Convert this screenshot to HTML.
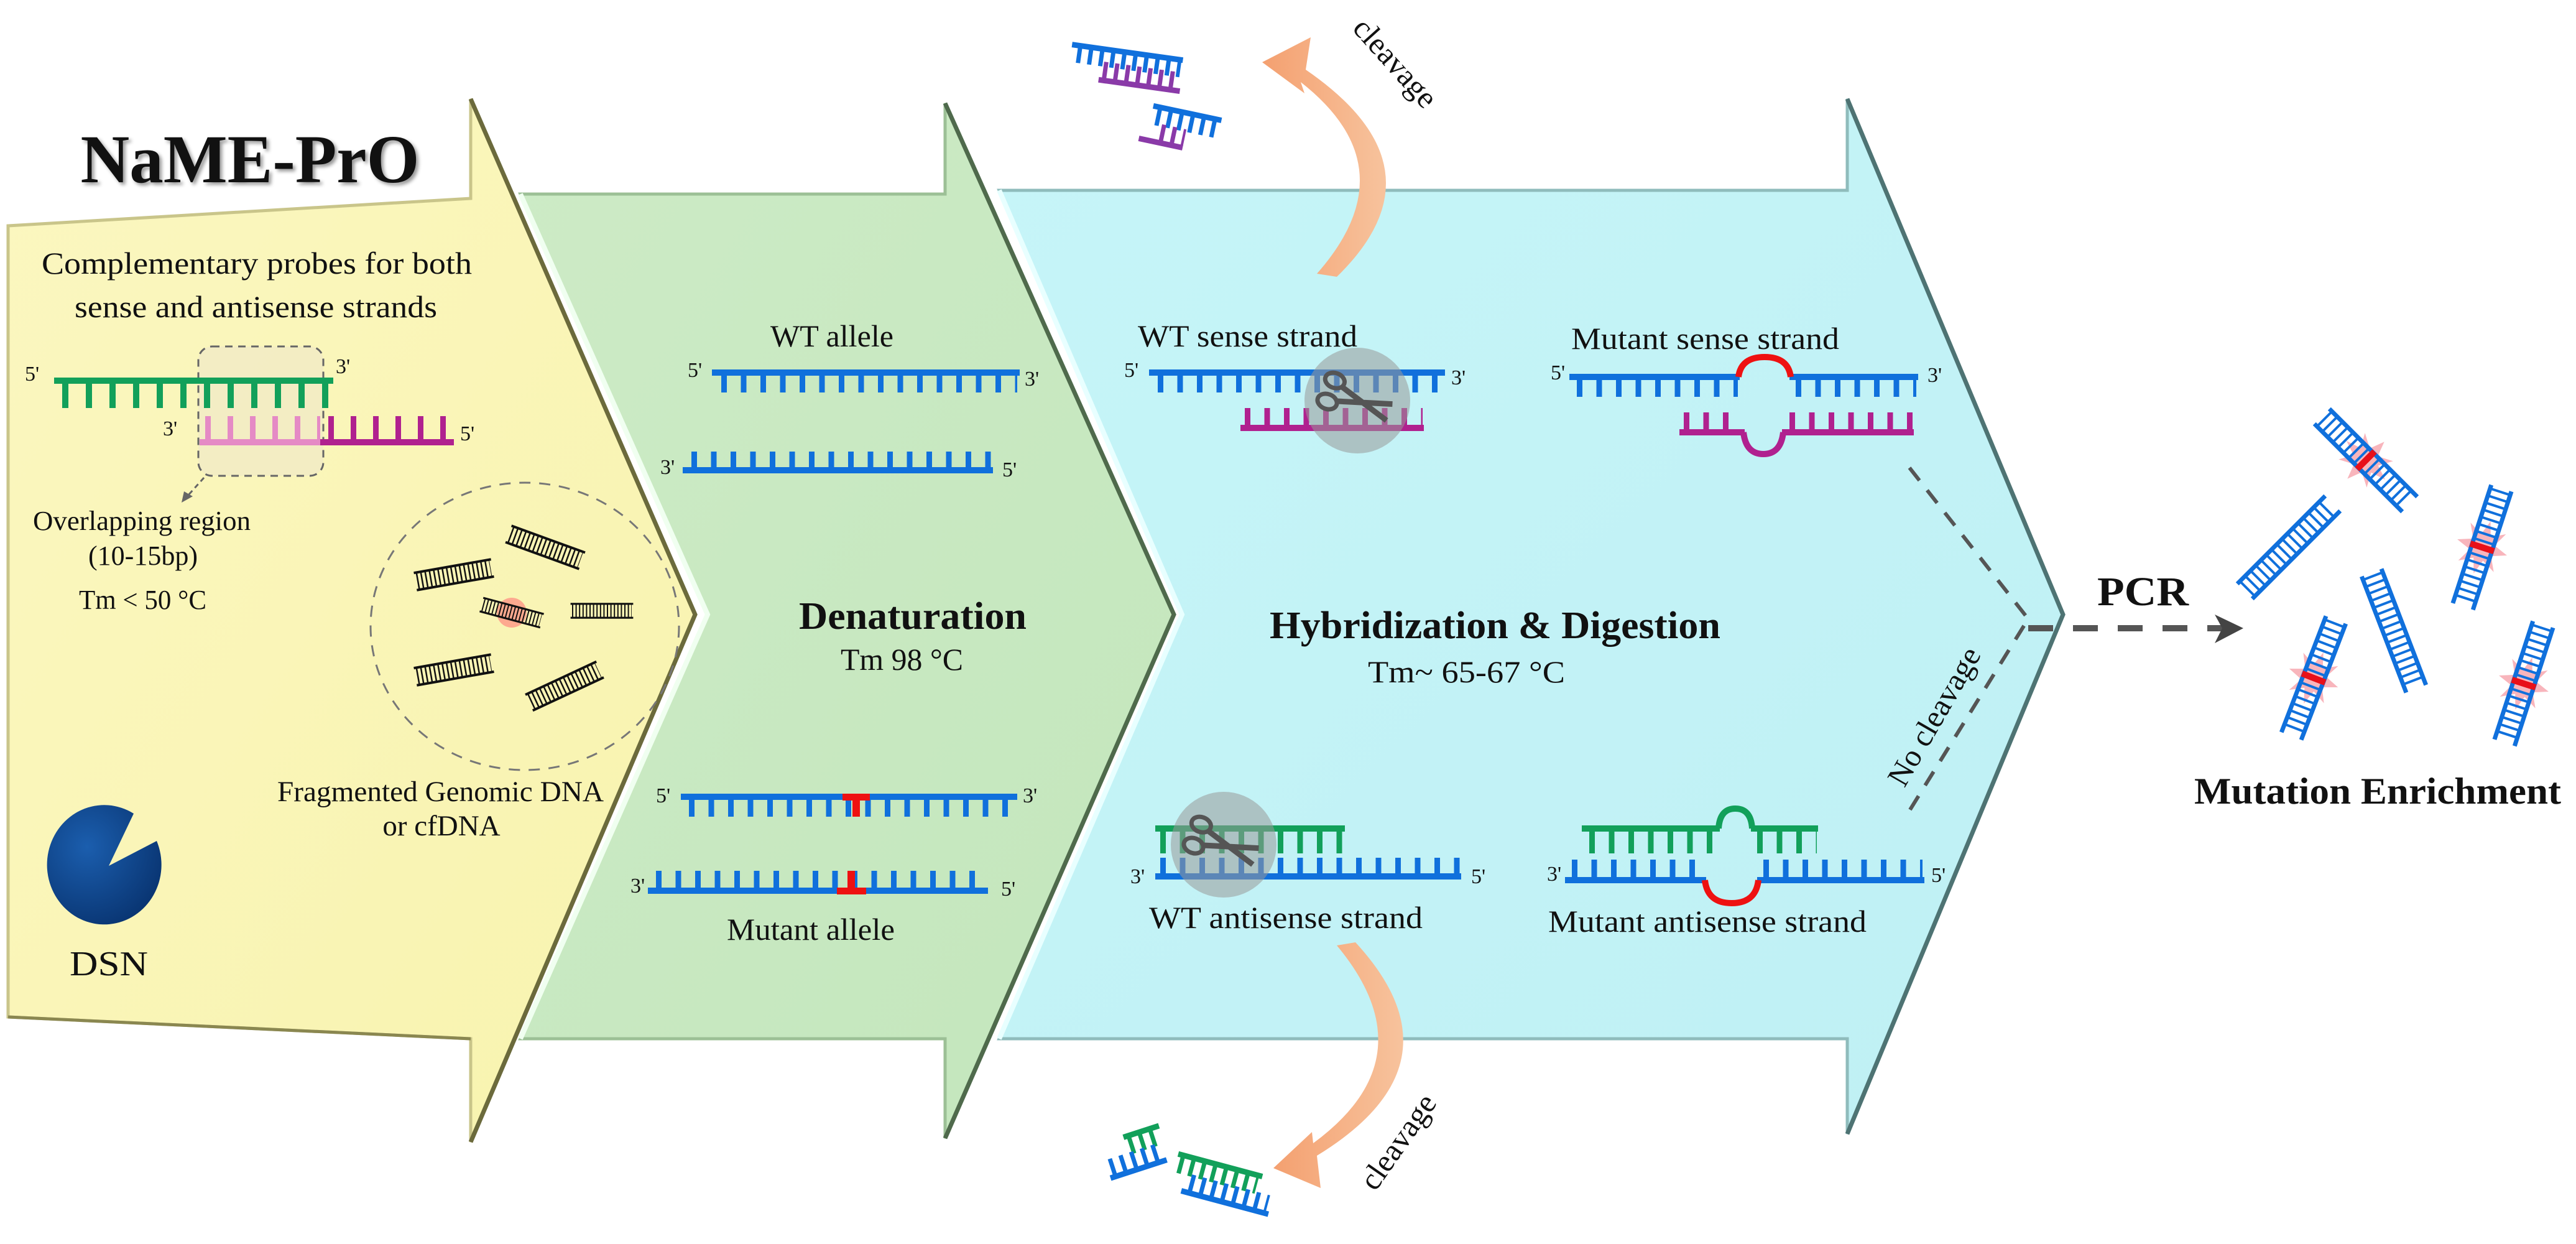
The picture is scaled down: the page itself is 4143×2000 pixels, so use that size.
<!DOCTYPE html>
<html><head><meta charset="utf-8"><style>
html,body{margin:0;padding:0;background:#fff;}
svg{display:block;}
text{font-family:"Liberation Serif",serif;fill:#111;}
.b{font-weight:bold;}
</style></head><body>
<svg width="4143" height="2000" viewBox="0 0 4143 2000" xmlns="http://www.w3.org/2000/svg">
<defs>
<linearGradient id="gy" x1="0" y1="0" x2="1" y2="1"><stop offset="0" stop-color="#fbf7c0"/><stop offset="1" stop-color="#f8f3ae"/></linearGradient>
<linearGradient id="gg" x1="0" y1="0" x2="1" y2="1"><stop offset="0" stop-color="#cdebc6"/><stop offset="1" stop-color="#c3e6bc"/></linearGradient>
<linearGradient id="gc" x1="0" y1="0" x2="1" y2="1"><stop offset="0" stop-color="#c6f5f8"/><stop offset="1" stop-color="#bff0f4"/></linearGradient>
<radialGradient id="gd" cx="0.35" cy="0.35" r="0.8"><stop offset="0" stop-color="#1b5eae"/><stop offset="1" stop-color="#07306b"/></radialGradient>
<linearGradient id="go" x1="0" y1="0" x2="1" y2="0"><stop offset="0" stop-color="#f4a070"/><stop offset="1" stop-color="#f7c39d"/></linearGradient>
<g id="bl">
  <line x1="-63" y1="-14" x2="63" y2="-14" stroke="#111" stroke-width="4"/>
  <line x1="-63" y1="14" x2="63" y2="14" stroke="#111" stroke-width="4"/>
  <line x1="-60" y1="0" x2="60" y2="0" stroke="#111" stroke-width="28" stroke-dasharray="2.5 4.5"/>
</g>
<g id="fr">
  <line x1="-100" y1="-17" x2="100" y2="-17" stroke="#1070dc" stroke-width="7"/>
  <line x1="-100" y1="17" x2="100" y2="17" stroke="#1070dc" stroke-width="7"/>
  <line x1="-96" y1="0" x2="96" y2="0" stroke="#1070dc" stroke-width="34" stroke-dasharray="4 8"/>
</g>
<g id="mut">
  <polygon points="0,-42 9,-18 32,-30 20,-8 44,0 20,8 32,30 9,18 0,42 -9,18 -32,30 -20,8 -44,0 -20,-8 -32,-30 -9,-18" fill="#f7a8b0" opacity="0.85"/>
  <rect x="-5" y="-20" width="10" height="40" fill="#e8101a"/>
</g>
</defs>

<!-- panels -->
<polygon points="1607,306 2971,306 2971,159 3318,988 2971,1823 2971,1670 1607,1670 1901,988" fill="url(#gc)" stroke="#8fbcbc" stroke-width="5"/>
<polyline points="2971,159 3318,988 2971,1823" fill="none" stroke="#4e7373" stroke-width="7"/>
<polyline points="1607,306 1901,988 1607,1670" fill="none" stroke="#e8ffff" stroke-width="8"/>
<polygon points="837,312 1520,312 1520,166 1888,988 1520,1830 1520,1670 837,1670 1138,988" fill="url(#gg)" stroke="#9cc096" stroke-width="5"/>
<polyline points="1520,166 1888,988 1520,1830" fill="none" stroke="#4f6a4c" stroke-width="7"/>
<polyline points="837,312 1138,988 837,1670" fill="none" stroke="#f0fff0" stroke-width="8"/>
<polygon points="13,363 757,319 757,159 1118,988 757,1836 757,1670 13,1635" fill="url(#gy)" stroke="#c9c58a" stroke-width="5"/>
<polyline points="757,159 1118,988 757,1836" fill="none" stroke="#6b6a3c" stroke-width="7"/>
<polyline points="13,1635 757,1670" fill="none" stroke="#8a8750" stroke-width="5"/>

<!-- Yellow panel -->
<text x="402" y="293" font-size="110" class="b" text-anchor="middle" textLength="545" lengthAdjust="spacingAndGlyphs" style="filter:drop-shadow(4px 4px 3px #999)">NaME-PrO</text>
<text x="67" y="440" font-size="50" textLength="692" lengthAdjust="spacingAndGlyphs">Complementary  probes for  both</text>
<text x="120" y="510" font-size="50" textLength="583" lengthAdjust="spacingAndGlyphs">sense  and antisense  strands</text>
<rect x="319" y="557" width="201" height="208" rx="22" fill="#efe9c8" fill-opacity="0.7" stroke="#666" stroke-width="3" stroke-dasharray="12 9"/>
<line x1="87" y1="612" x2="536" y2="612" stroke="#12a05a" stroke-width="10"/>
<line x1="100" y1="634" x2="530" y2="634" stroke="#12a05a" stroke-width="44" stroke-dasharray="10 28"/>
<line x1="321" y1="711" x2="515" y2="711" stroke="#e58ac5" stroke-width="10"/>
<line x1="515" y1="711" x2="730" y2="711" stroke="#b0218f" stroke-width="10"/>
<line x1="330" y1="690" x2="515" y2="690" stroke="#e58ac5" stroke-width="42" stroke-dasharray="9 27"/>
<line x1="528" y1="690" x2="728" y2="690" stroke="#b0218f" stroke-width="42" stroke-dasharray="9 27"/>
<text x="40" y="612" font-size="34">5'</text><text x="540" y="600" font-size="34">3'</text>
<text x="262" y="700" font-size="34">3'</text><text x="740" y="708" font-size="34">5'</text>
<line x1="328" y1="768" x2="302" y2="797" stroke="#666" stroke-width="3" stroke-dasharray="8 6"/>
<polygon points="292,808 296,790 310,798" fill="#666"/>
<text x="228" y="852" font-size="44" text-anchor="middle" textLength="350" lengthAdjust="spacingAndGlyphs">Overlapping region</text>
<text x="230" y="908" font-size="44" text-anchor="middle">(10-15bp)</text>
<text x="127" y="979" font-size="44" textLength="205" lengthAdjust="spacingAndGlyphs">Tm &lt; 50 °C</text>
<ellipse cx="844" cy="1007" rx="248" ry="231" fill="none" stroke="#777" stroke-width="3" stroke-dasharray="18 14"/>
<use href="#bl" transform="translate(730,924) rotate(-10)"/>
<use href="#bl" transform="translate(877,880) rotate(20)"/>
<circle cx="823" cy="985" r="24" fill="#f77" opacity="0.6"/>
<use href="#bl" transform="translate(823,985) rotate(15) scale(0.8)"/>
<use href="#bl" transform="translate(968,982) scale(0.8)"/>
<use href="#bl" transform="translate(730,1077) rotate(-10)"/>
<use href="#bl" transform="translate(908,1103) rotate(-25)"/>
<text x="446" y="1288" font-size="47" textLength="525" lengthAdjust="spacingAndGlyphs">Fragmented Genomic DNA</text>
<text x="710" y="1343" font-size="47" text-anchor="middle">or cfDNA</text>
<path d="M175,1392 L215,1308 A92,96 0 1 0 252,1352 Z" fill="url(#gd)"/>
<text x="112" y="1568" font-size="56" textLength="126" lengthAdjust="spacingAndGlyphs">DSN</text>

<!-- Green panel -->
<text x="1239" y="557" font-size="50" textLength="198" lengthAdjust="spacingAndGlyphs">WT allele</text>
<line x1="1145" y1="599" x2="1640" y2="599" stroke="#1070dc" stroke-width="10"/>
<line x1="1160" y1="615" x2="1636" y2="615" stroke="#1070dc" stroke-width="32" stroke-dasharray="9 22.5"/>
<text x="1106" y="606" font-size="34">5'</text><text x="1648" y="620" font-size="34">3'</text>
<line x1="1098" y1="756" x2="1597" y2="756" stroke="#1070dc" stroke-width="10"/>
<line x1="1112" y1="741" x2="1594" y2="741" stroke="#1070dc" stroke-width="30" stroke-dasharray="9 22.5"/>
<text x="1062" y="762" font-size="34">3'</text><text x="1612" y="766" font-size="34">5'</text>
<text x="1285" y="1011" font-size="62" class="b" textLength="366" lengthAdjust="spacingAndGlyphs">Denaturation</text>
<text x="1352" y="1077" font-size="50" textLength="197" lengthAdjust="spacingAndGlyphs">Tm 98 °C</text>
<line x1="1095" y1="1281" x2="1636" y2="1281" stroke="#1070dc" stroke-width="10"/>
<line x1="1108" y1="1297" x2="1632" y2="1297" stroke="#1070dc" stroke-width="32" stroke-dasharray="9 22.5"/>
<rect x="1355" y="1276" width="44" height="11" fill="#ee1111"/><rect x="1371" y="1281" width="12" height="32" fill="#ee1111"/>
<text x="1055" y="1290" font-size="34">5'</text><text x="1645" y="1290" font-size="34">3'</text>
<line x1="1042" y1="1432" x2="1589" y2="1432" stroke="#1070dc" stroke-width="10"/>
<line x1="1055" y1="1416" x2="1586" y2="1416" stroke="#1070dc" stroke-width="32" stroke-dasharray="9 22.5"/>
<rect x="1346" y="1427" width="47" height="11" fill="#ee1111"/><rect x="1363" y="1400" width="12" height="32" fill="#ee1111"/>
<text x="1014" y="1435" font-size="34">3'</text><text x="1610" y="1440" font-size="34">5'</text>
<text x="1169" y="1511" font-size="50" textLength="270" lengthAdjust="spacingAndGlyphs">Mutant  allele</text>

<!-- Cyan panel -->
<text x="1830" y="557" font-size="50" textLength="353" lengthAdjust="spacingAndGlyphs">WT sense strand</text>
<line x1="1848" y1="599" x2="2324" y2="599" stroke="#1070dc" stroke-width="10"/>
<line x1="1862" y1="615" x2="2320" y2="615" stroke="#1070dc" stroke-width="32" stroke-dasharray="9 22.5"/>
<text x="1808" y="606" font-size="34">5'</text><text x="2334" y="618" font-size="34">3'</text>
<line x1="1995" y1="688" x2="2290" y2="688" stroke="#b0218f" stroke-width="10"/>
<line x1="2002" y1="672" x2="2288" y2="672" stroke="#b0218f" stroke-width="32" stroke-dasharray="9 22.5"/>

<text x="2527" y="561" font-size="50" textLength="431" lengthAdjust="spacingAndGlyphs">Mutant  sense  strand</text>
<line x1="2524" y1="606" x2="2798" y2="606" stroke="#1070dc" stroke-width="10"/>
<line x1="2878" y1="606" x2="3085" y2="606" stroke="#1070dc" stroke-width="10"/>
<path d="M2796 606 Q2800 574 2838 574 Q2876 574 2880 606" fill="none" stroke="#ee1111" stroke-width="10"/>
<line x1="2536" y1="622" x2="2795" y2="622" stroke="#1070dc" stroke-width="32" stroke-dasharray="9 22.5"/>
<line x1="2888" y1="622" x2="3082" y2="622" stroke="#1070dc" stroke-width="32" stroke-dasharray="9 22.5"/>
<text x="2494" y="610" font-size="34">5'</text><text x="3100" y="614" font-size="34">3'</text>
<line x1="2701" y1="695" x2="2806" y2="695" stroke="#b0218f" stroke-width="10"/>
<line x1="2866" y1="695" x2="3078" y2="695" stroke="#b0218f" stroke-width="10"/>
<path d="M2804 695 Q2808 730 2836 730 Q2864 730 2868 695" fill="none" stroke="#b0218f" stroke-width="10"/>
<line x1="2708" y1="679" x2="2800" y2="679" stroke="#b0218f" stroke-width="32" stroke-dasharray="9 22.5"/>
<line x1="2878" y1="679" x2="3076" y2="679" stroke="#b0218f" stroke-width="32" stroke-dasharray="9 22.5"/>

<text x="2042" y="1026" font-size="62" class="b" textLength="725" lengthAdjust="spacingAndGlyphs">Hybridization &amp; Digestion</text>
<text x="2200" y="1097" font-size="50" textLength="317" lengthAdjust="spacingAndGlyphs">Tm~  65-67 °C</text>

<line x1="1858" y1="1332" x2="2163" y2="1332" stroke="#12a05a" stroke-width="10"/>
<line x1="1866" y1="1352" x2="2160" y2="1352" stroke="#12a05a" stroke-width="40" stroke-dasharray="9 22.5"/>
<line x1="1858" y1="1409" x2="2350" y2="1409" stroke="#1070dc" stroke-width="10"/>
<line x1="1866" y1="1394" x2="2348" y2="1394" stroke="#1070dc" stroke-width="30" stroke-dasharray="9 22.5"/>
<text x="1818" y="1420" font-size="34">3'</text><text x="2366" y="1420" font-size="34">5'</text>
<text x="1848" y="1492" font-size="50" textLength="440" lengthAdjust="spacingAndGlyphs">WT antisense  strand</text>

<text x="2545" y="1332" font-size="1"> </text>
<line x1="2544" y1="1332" x2="2766" y2="1332" stroke="#12a05a" stroke-width="10"/>
<line x1="2816" y1="1332" x2="2924" y2="1332" stroke="#12a05a" stroke-width="10"/>
<path d="M2764 1332 Q2766 1300 2791 1300 Q2816 1300 2818 1332" fill="none" stroke="#12a05a" stroke-width="10"/>
<line x1="2556" y1="1352" x2="2760" y2="1352" stroke="#12a05a" stroke-width="40" stroke-dasharray="9 22.5"/>
<line x1="2826" y1="1352" x2="2922" y2="1352" stroke="#12a05a" stroke-width="40" stroke-dasharray="9 22.5"/>
<line x1="2517" y1="1415" x2="2744" y2="1415" stroke="#1070dc" stroke-width="10"/>
<line x1="2826" y1="1415" x2="3095" y2="1415" stroke="#1070dc" stroke-width="10"/>
<path d="M2742 1415 Q2746 1452 2785 1452 Q2824 1452 2828 1415" fill="none" stroke="#ee1111" stroke-width="10"/>
<line x1="2528" y1="1398" x2="2738" y2="1398" stroke="#1070dc" stroke-width="32" stroke-dasharray="9 22.5"/>
<line x1="2836" y1="1398" x2="3092" y2="1398" stroke="#1070dc" stroke-width="32" stroke-dasharray="9 22.5"/>
<text x="2488" y="1416" font-size="34">3'</text><text x="3106" y="1418" font-size="34">5'</text>
<text x="2490" y="1498" font-size="50" textLength="512" lengthAdjust="spacingAndGlyphs">Mutant  antisense  strand</text>

<!-- scissors circles -->
<g>
<circle cx="2183" cy="644" r="85" fill="#999" fill-opacity="0.55"/>
<g transform="translate(2183,644) rotate(20)" stroke="#555" stroke-width="7" fill="none">
<ellipse cx="-45" cy="-18" rx="16" ry="12"/><ellipse cx="-45" cy="18" rx="16" ry="12"/>
<path d="M-30,-12 L55,14 M-30,12 L55,-14" stroke-width="9"/>
</g>
<circle cx="1968" cy="1358" r="85" fill="#999" fill-opacity="0.55"/>
<g transform="translate(1968,1358) rotate(20)" stroke="#555" stroke-width="7" fill="none">
<ellipse cx="-45" cy="-18" rx="16" ry="12"/><ellipse cx="-45" cy="18" rx="16" ry="12"/>
<path d="M-30,-12 L55,14 M-30,12 L55,-14" stroke-width="9"/>
</g>
</g>

<!-- no cleavage -->
<polyline points="3071,752 3262,995 3065,1313" fill="none" stroke="#555" stroke-width="6" stroke-dasharray="26 20"/>
<text x="3125" y="1160" font-size="50" text-anchor="middle" transform="rotate(-60 3125 1160)">No cleavage</text>

<!-- PCR arrow -->
<line x1="3262" y1="1010" x2="3580" y2="1010" stroke="#555" stroke-width="10" stroke-dasharray="40 32"/>
<polygon points="3562,988 3608,1010 3562,1034 3574,1010" fill="#444"/>
<text x="3373" y="973" font-size="66" class="b" textLength="147" lengthAdjust="spacingAndGlyphs">PCR</text>

<!-- cleavage arrows -->
<path d="M2150,445 Q2330,270 2100,112 L2108,60 L2030,100 L2098,150 L2092,132 Q2268,270 2118,440 Z" fill="url(#go)"/>
<text x="2232" y="112" font-size="50" text-anchor="middle" transform="rotate(48 2232 112)">cleavage</text>
<path d="M2180,1515 Q2360,1710 2118,1858 L2124,1910 L2048,1878 L2110,1820 L2112,1838 Q2300,1700 2150,1520 Z" fill="url(#go)"/>
<text x="2262" y="1845" font-size="50" text-anchor="middle" transform="rotate(-55 2262 1845)">cleavage</text>

<!-- cleaved fragments -->
<g transform="translate(1810,108) rotate(8)">
<line x1="-90" y1="-24" x2="90" y2="-24" stroke="#1070dc" stroke-width="9"/>
<line x1="-80" y1="-10" x2="88" y2="-10" stroke="#1070dc" stroke-width="28" stroke-dasharray="7 11"/>
<line x1="-40" y1="26" x2="92" y2="26" stroke="#8a3aa8" stroke-width="9"/>
<line x1="-35" y1="10" x2="90" y2="10" stroke="#8a3aa8" stroke-width="28" stroke-dasharray="7 11"/>
</g>
<g transform="translate(1898,208) rotate(12)">
<line x1="-50" y1="-28" x2="62" y2="-28" stroke="#1070dc" stroke-width="9"/>
<line x1="-42" y1="-12" x2="60" y2="-12" stroke="#1070dc" stroke-width="28" stroke-dasharray="7 11"/>
<line x1="-62" y1="28" x2="10" y2="28" stroke="#8a3aa8" stroke-width="9"/>
<line x1="-30" y1="12" x2="10" y2="12" stroke="#8a3aa8" stroke-width="28" stroke-dasharray="7 11"/>
</g>
<g transform="translate(1825,1852) rotate(-18)">
<line x1="-10" y1="-28" x2="50" y2="-28" stroke="#12a05a" stroke-width="9"/>
<line x1="-5" y1="-12" x2="48" y2="-12" stroke="#12a05a" stroke-width="28" stroke-dasharray="7 11"/>
<line x1="-50" y1="28" x2="45" y2="28" stroke="#1070dc" stroke-width="9"/>
<line x1="-45" y1="12" x2="42" y2="12" stroke="#1070dc" stroke-width="28" stroke-dasharray="7 11"/>
</g>
<g transform="translate(1965,1903) rotate(15)">
<line x1="-80" y1="-28" x2="60" y2="-28" stroke="#12a05a" stroke-width="9"/>
<line x1="-75" y1="-12" x2="55" y2="-12" stroke="#12a05a" stroke-width="28" stroke-dasharray="7 11"/>
<line x1="-60" y1="28" x2="85" y2="28" stroke="#1070dc" stroke-width="9"/>
<line x1="-50" y1="12" x2="80" y2="12" stroke="#1070dc" stroke-width="28" stroke-dasharray="7 11"/>
</g>

<!-- enriched fragments -->
<g transform="translate(3805,740) rotate(45)"><use href="#mut"/><use href="#fr"/><rect x="-5" y="-20" width="10" height="40" fill="#e8101a"/></g>
<g transform="translate(3681,880) rotate(-45)"><use href="#fr"/></g>
<g transform="translate(3992,880) rotate(108)"><use href="#mut"/><use href="#fr"/><rect x="-5" y="-20" width="10" height="40" fill="#e8101a"/></g>
<g transform="translate(3850,1014) rotate(69)"><use href="#fr"/></g>
<g transform="translate(3721,1090) rotate(111)"><use href="#mut"/><use href="#fr"/><rect x="-5" y="-20" width="10" height="40" fill="#e8101a"/></g>
<g transform="translate(4059,1099) rotate(108)"><use href="#mut"/><use href="#fr"/><rect x="-5" y="-20" width="10" height="40" fill="#e8101a"/></g>
<text x="3529" y="1292" font-size="60" class="b" textLength="590" lengthAdjust="spacingAndGlyphs">Mutation Enrichment</text>
</svg>
</body></html>
